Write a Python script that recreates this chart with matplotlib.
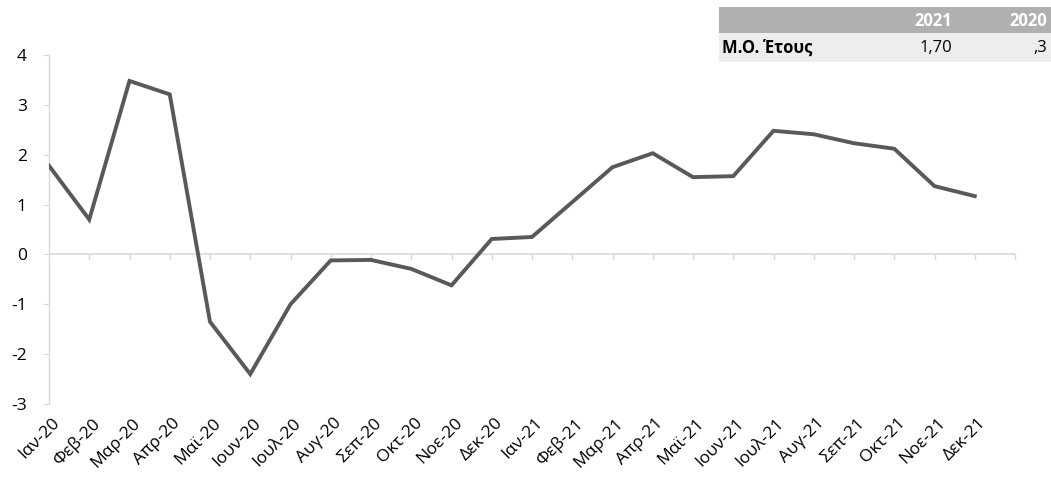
import matplotlib
matplotlib.use("Agg")
import matplotlib.pyplot as plt
from matplotlib.patches import Rectangle

plt.rcParams['font.family'] = ['Open Sans', 'DejaVu Sans']

months = ["Ιαν-20", "Φεβ-20", "Μαρ-20", "Απρ-20", "Μαϊ-20", "Ιουν-20", "Ιουλ-20",
          "Αυγ-20", "Σεπ-20", "Οκτ-20", "Νοε-20", "Δεκ-20",
          "Ιαν-21", "Φεβ-21", "Μαρ-21", "Απρ-21", "Μαϊ-21", "Ιουν-21", "Ιουλ-21",
          "Αυγ-21", "Σεπ-21", "Οκτ-21", "Νοε-21", "Δεκ-21"]
values = [1.78, 0.70, 3.48, 3.21, -1.35, -2.40, -1.00, -0.12, -0.11, -0.29, -0.62, 0.31,
          0.35, 1.05, 1.75, 2.03, 1.55, 1.57, 2.48, 2.41, 2.23, 2.12, 1.37, 1.17]
yticks = [-3, -2, -1, 0, 1, 2, 3, 4]
table_header = ["", "2021", "2020"]
table_row = ["Μ.Ο. Έτους", "1,70", ",3"]

W, H = 1051, 479
fig = plt.figure(figsize=(W / 100, H / 100), dpi=100)
ax = fig.add_axes([49 / W, 1 - 404 / H, (1015 - 49) / W, (404 - 55) / H])

x = list(range(len(values)))
ax.plot(x, values, color="#595959", lw=2.8, solid_joinstyle="miter", zorder=3)

ax.set_xlim(0, 24)
ax.set_ylim(-3, 4)
ax.set_yticks(yticks)
ax.set_yticklabels([str(v) for v in yticks], fontsize=12.5)
for s in ["top", "right", "bottom"]:
    ax.spines[s].set_visible(False)
ax.spines["left"].set_color("#D9D9D9")
ax.spines["left"].set_linewidth(1)
ax.tick_params(axis="y", length=4, color="#D9D9D9", pad=12, labelcolor="#000000")

# zero line acting as category axis
ax.axhline(0, color="#D9D9D9", lw=1.2, zorder=1)
ax.set_xticks([])
for i in range(25):
    ax.plot([i, i], [0, -0.09], color="#D9D9D9", lw=1, zorder=1, clip_on=False)

# rotated category labels below the plot
for i, m in enumerate(months):
    ax.annotate(m, xy=(i, -3), xycoords="data", xytext=(2, -8), textcoords="offset points",
                rotation=45, ha="right", va="top", rotation_mode="anchor", fontsize=12.5,
                annotation_clip=False)

# summary table in top-right
def px(xp, yp):
    return xp / W, 1 - yp / H

fig.patches.append(Rectangle(px(719, 33), (W - 719) / W, 26 / H, transform=fig.transFigure,
                             facecolor="#B0B0B0", edgecolor="none"))
fig.patches.append(Rectangle(px(719, 62), (W - 719) / W, 29 / H, transform=fig.transFigure,
                             facecolor="#EDEDED", edgecolor="none"))
col_right = [None, 952, 1047]
for j in (1, 2):
    fig.text(*px(col_right[j], 21), table_header[j], ha="right", va="center",
             fontsize=12, fontweight="bold", color="white")
    fig.text(*px(col_right[j], 48), table_row[j], ha="right", va="center",
             fontsize=12, color="black")
fig.text(*px(722, 48), table_row[0], ha="left", va="center", fontsize=12,
         fontweight="bold", color="black")

fig.savefig("out.png", dpi=100)
